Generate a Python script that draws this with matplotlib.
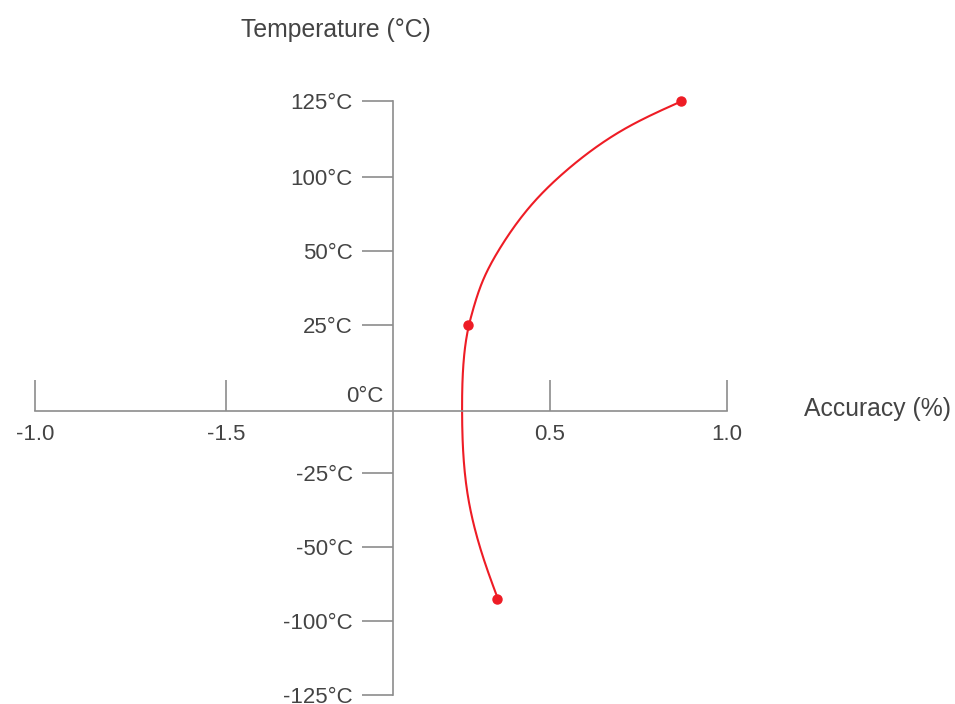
import numpy as np
import matplotlib.pyplot as plt

plt.rcParams['font.family'] = ['Liberation Sans', 'DejaVu Sans']

# x axis (accuracy %) ticks and the labels as printed on the chart
acc_ticks = [-1.0, -0.5, 0.5, 1.0]
acc_labels = ['-1.0', '-1.5', '0.5', '1.0']

# y axis (temperature) ticks, not evenly spaced in value
temp_ticks = [-125, -100, -50, -25, 25, 50, 100, 125]
temp_labels = ['-125°C', '-100°C', '-50°C', '-25°C', '25°C', '50°C', '100°C', '125°C']

# marked points
acc = [0.87, 0.24, 0.33]
temp = [125, 25, -85]

# error curve read along its length (accuracy %, temperature)
curve_acc = [0.873, 0.706, 0.548, 0.446, 0.341, 0.287, 0.252, 0.242,
             0.223, 0.220, 0.239, 0.293, 0.334]
curve_temp = [125, 115.5, 102.3, 82.4, 52.0, 40.2, 29.1, 25,
              11.9, 0, -33.1, -60.8, -85]

# the axes are drawn piecewise: each tick gets its own slot
x_vals = [-1.0, -0.5, 0.0, 0.5, 1.0]
x_slot = [0, 191, 358, 515, 692]
y_vals = [-125, -100, -50, -25, 0, 25, 50, 100, 125]
y_slot = [0, 74, 148, 222, 284, 370, 444, 518, 594]


def x_fwd(v):
    return np.interp(v, x_vals, x_slot)


def x_inv(p):
    return np.interp(p, x_slot, x_vals)


def y_fwd(v):
    return np.interp(v, y_vals, y_slot)


def y_inv(p):
    return np.interp(p, y_slot, y_vals)


def natural_spline(t, v, n=25):
    # natural cubic spline v(t), t increasing
    t = np.asarray(t, float)
    v = np.asarray(v, float)
    k = len(t)
    h = np.diff(t)
    A = np.zeros((k, k))
    b = np.zeros(k)
    A[0, 0] = A[-1, -1] = 1
    for i in range(1, k - 1):
        A[i, i - 1] = h[i - 1]
        A[i, i] = 2 * (h[i - 1] + h[i])
        A[i, i + 1] = h[i]
        b[i] = 6 * ((v[i + 1] - v[i]) / h[i] - (v[i] - v[i - 1]) / h[i - 1])
    M = np.linalg.solve(A, b)
    out = []
    for i in range(k - 1):
        s = np.linspace(0, 1, n)[(0 if i == 0 else 1):]
        hi = h[i]
        seg = (M[i] * (hi * (1 - s)) ** 3 / (6 * hi) + M[i + 1] * (hi * s) ** 3 / (6 * hi)
               + (v[i] - M[i] * hi ** 2 / 6) * (1 - s)
               + (v[i + 1] - M[i + 1] * hi ** 2 / 6) * s)
        out.append(seg)
    return np.concatenate(out)


axis_col = '#8c8c8c'
text_col = '#444444'
red = '#ee1c25'

fig = plt.figure(figsize=(9.55, 7.04), dpi=100)
ax = fig.add_axes([35 / 955, 9 / 704, 692 / 955, 594 / 704])
ax.set_xscale('function', functions=(x_fwd, x_inv))
ax.set_yscale('function', functions=(y_fwd, y_inv))
ax.set_xlim(-1.0, 1.0)
ax.set_ylim(-125, 125)

for side in ['top', 'right']:
    ax.spines[side].set_visible(False)
for side in ['left', 'bottom']:
    ax.spines[side].set_position(('data', 0))
    ax.spines[side].set_color(axis_col)
    ax.spines[side].set_linewidth(1.2)

ax.set_xticks(acc_ticks)
ax.set_xticklabels(acc_labels)
ax.set_yticks(temp_ticks)
ax.set_yticklabels(temp_labels)
ax.minorticks_off()
ax.tick_params(axis='x', direction='in', length=22, width=1.2, color=axis_col,
               labelsize=16, labelcolor=text_col, pad=9)
ax.tick_params(axis='y', direction='out', length=22, width=1.2, color=axis_col,
               labelsize=16, labelcolor=text_col, pad=7)

ax.annotate('0°C', (0, 0), xytext=(-7, 10.5), textcoords='offset points',
            ha='right', va='center', fontsize=16, color=text_col)

# smooth the read curve in the axes' slot space, chord-length parametrised
sx = x_fwd(np.array(curve_acc))
sy = y_fwd(np.array(curve_temp))
chord = np.concatenate([[0], np.cumsum(np.hypot(np.diff(sx), np.diff(sy)))])
vx = natural_spline(chord, sx)
vy = natural_spline(chord, sy)
ax.plot(x_inv(vx), y_inv(vy), color=red, lw=1.5, clip_on=False)
ax.plot(acc, temp, 'o', color=red, ms=6.5, clip_on=False, zorder=3)

fig.text(336 / 955, 1 - 30 / 704, 'Temperature (°C)', ha='center', va='center',
         fontsize=17.8, color=text_col)
fig.text(804 / 955, 1 - 409 / 704, 'Accuracy (%)', ha='left', va='center',
         fontsize=17.8, color=text_col)

fig.savefig('out.png', dpi=100)
